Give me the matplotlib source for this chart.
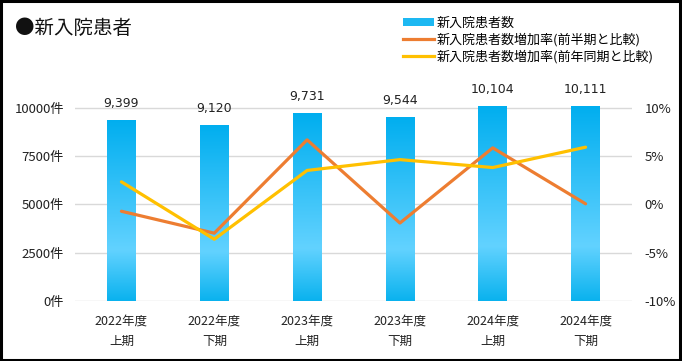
import matplotlib
matplotlib.use("Agg")
import matplotlib.pyplot as plt
import numpy as np
from matplotlib.colors import LinearSegmentedColormap
from matplotlib.patches import Rectangle
from matplotlib.lines import Line2D
from matplotlib.patches import Patch

plt.rcParams['font.family'] = ['Noto Sans CJK JP', 'DejaVu Sans']

categories = ["2022年度\n上期", "2022年度\n下期", "2023年度\n上期", "2023年度\n下期", "2024年度\n上期", "2024年度\n下期"]
patients = [9399, 9120, 9731, 9544, 10104, 10111]
rate_half = [-0.7, -2.97, 6.70, -1.92, 5.87, 0.07]
rate_year = [2.35, -3.6, 3.53, 4.65, 3.83, 5.94]
left_ticks = [0, 2500, 5000, 7500, 10000]
right_ticks = [-10, -5, 0, 5, 10]

fig = plt.figure(figsize=(6.82, 3.61), dpi=100)
ax = fig.add_axes([0.110, 0.1662, 0.8167, 0.6683])
ax2 = ax.twinx()

x = np.arange(len(categories))
bw = 0.31
bars = ax.bar(x, patients, width=bw, color='none', edgecolor='none', zorder=2)

cmap = LinearSegmentedColormap.from_list('g', [(0.0, '#0AB2EE'), (0.28, '#62D2FF'), (1.0, '#00AEEF')])
grad = np.linspace(0, 1, 256).reshape(-1, 1)
for b in bars:
    x0, y0, w, h = b.get_x(), b.get_y(), b.get_width(), b.get_height()
    im = ax.imshow(grad, cmap=cmap, origin='lower', extent=[x0, x0 + w, y0, y0 + h],
                   aspect='auto', zorder=2)
    im.set_clip_path(b)

for xi, v in zip(x, patients):
    ax.text(xi, v + 520, f"{v:,}", ha='center', va='bottom', fontsize=9,
            family=['DejaVu Sans'], color='#222222')

ax.set_xlim(-0.5, len(categories) - 0.5)
ax.set_ylim(0, 12500)
ax.set_yticks(left_ticks)
ax.set_yticklabels([f"{t}件" for t in left_ticks], fontsize=9.5, color='#222222')
ax.set_xticks(x)
ax.set_xticklabels(categories, fontsize=9, color='#222222', linespacing=1.75)
ax.tick_params(axis='both', length=0)
ax.tick_params(axis='y', pad=8)
ax.tick_params(axis='x', pad=10)
for t in left_ticks:
    ax.axhline(t, color='#D9D9D9', lw=1, zorder=1)
for s in ax.spines.values():
    s.set_visible(False)
for s in ax2.spines.values():
    s.set_visible(False)

ax2.plot(x, rate_half, color='#ED7D31', lw=2.3, zorder=3, solid_capstyle='round')
ax2.plot(x, rate_year, color='#FFC000', lw=2.3, zorder=3, solid_capstyle='round')
ax2.set_ylim(-10, 15)
ax2.set_yticks(right_ticks)
ax2.set_yticklabels([f"{t}%" for t in right_ticks], fontsize=9.5, color='#222222')
ax2.tick_params(axis='y', length=0, pad=9)

ax.set_zorder(1)
ax2.set_zorder(2)
ax2.patch.set_visible(False)

fig.text(0.022, 0.922, "●新入院患者", fontsize=14, ha='left', va='center', color='#111111')

handles = [Patch(facecolor='#1DB8F2', edgecolor='none'),
           Line2D([0], [0], color='#ED7D31', lw=2.3),
           Line2D([0], [0], color='#FFC000', lw=2.3)]
labels = ["新入院患者数", "新入院患者数増加率(前半期と比較)", "新入院患者数増加率(前年同期と比較)"]
fig.legend(handles, labels, loc='upper left', bbox_to_anchor=(0.577, 0.98), frameon=False,
           fontsize=9.4, handlelength=2.4, handleheight=0.6, handletextpad=0.2, labelspacing=0.25,
           borderpad=0.2)

fig.patches.append(Rectangle((0.002, 0.003), 0.995, 0.994, transform=fig.transFigure,
                             fill=False, edgecolor='black', lw=2.2))

fig.savefig("out.png", dpi=100)
